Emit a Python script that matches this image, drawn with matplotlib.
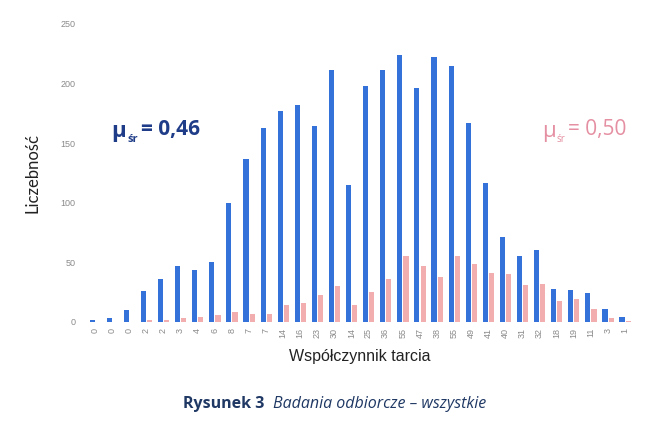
import numpy as np
import matplotlib.pyplot as plt

# pink series values are also used as the x tick labels
pink_vals = [0, 0, 0, 2, 2, 3, 4, 6, 8, 7, 7, 14, 16, 23, 30, 14,
             25, 36, 55, 47, 38, 55, 49, 41, 40, 31, 32, 18, 19, 11, 3, 1]
blue_vals = [2, 3, 10, 26, 36, 47, 44, 50, 100, 137, 163, 177, 182, 164, 211, 115,
             198, 211, 224, 196, 222, 215, 167, 117, 71, 55, 60, 28, 27, 24, 11, 4]
tick_labels = [str(v) for v in pink_vals]
y_ticks = [0, 50, 100, 150, 200, 250]

blue = '#3471D9'
pink = '#F2AEAE'
navy = '#1F3C88'
rose = '#E58FA2'

fig = plt.figure(figsize=(6.61, 4.33), dpi=100)
ax = fig.add_axes([0.1309, 0.2564, 0.8275, 0.6882])

x = np.arange(len(blue_vals))
ax.bar(x - 0.17, blue_vals, width=0.3, color=blue)
ax.bar(x + 0.19, pink_vals, width=0.3, color=pink)

ax.set_xlim(-0.5, len(x) - 0.5)
ax.set_ylim(0, 250)
ax.set_yticks(y_ticks)
ax.set_yticklabels([str(t) for t in y_ticks], fontsize=6.5, color='#8a8a8a',
                   family='Liberation Sans')
ax.set_xticks(x)
ax.set_xticklabels(tick_labels, rotation=90, fontsize=6.5, color='#8a8a8a',
                   family='Liberation Sans')
ax.tick_params(length=0, axis='y', pad=8)
ax.tick_params(length=0, axis='x', pad=4)
for s in ax.spines.values():
    s.set_visible(False)

ax.set_ylabel('Liczebność', fontsize=12, family='Lato', color='#222222', labelpad=14)
ax.set_xlabel('Współczynnik tarcia', fontsize=11.5, family='Liberation Sans',
              color='#222222', labelpad=8)

W, H = 661, 433


def ftext(px, py, s, **kw):
    fig.text(px / W, 1 - py / H, s, va='center', **kw)


# mean annotations
ftext(111, 131, 'μ', fontsize=16, color=navy, fontweight='bold', family='Open Sans')
ftext(127, 139, 'śr', fontsize=8, color=navy, fontweight='bold', family='Open Sans')
ftext(141, 130, '= 0,46', fontsize=15, color=navy, fontweight='bold', family='Open Sans')

ftext(542, 131, 'μ', fontsize=16, color=rose, family='Open Sans')
ftext(557, 139, 'śr', fontsize=7, color=rose, family='Open Sans')
ftext(568, 130, '= 0,50', fontsize=15, color=rose, family='Open Sans')

# caption
ftext(183, 404, 'Rysunek 3', fontsize=11.5, color='#1F3864', fontweight='bold',
      family='Open Sans')
ftext(273, 404, 'Badania odbiorcze – wszystkie', fontsize=11.5, color='#1F3864',
      style='italic', family='Open Sans')

fig.savefig('out.png', dpi=100)
